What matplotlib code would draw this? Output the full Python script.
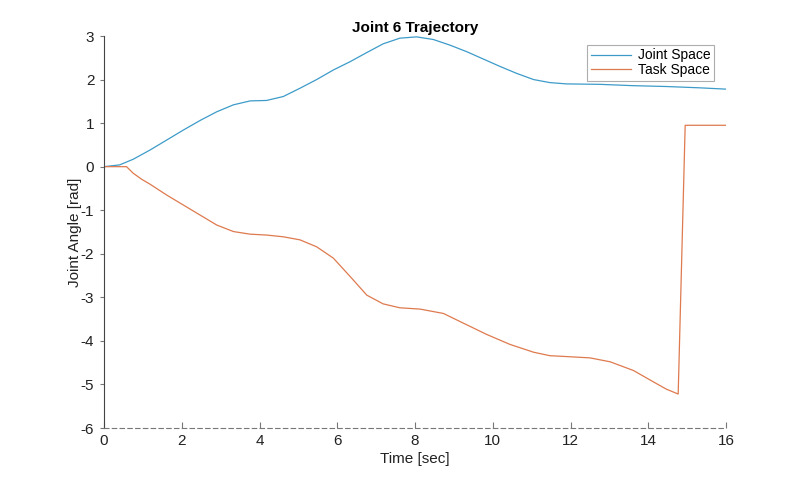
import matplotlib
matplotlib.use("Agg")
import matplotlib.pyplot as plt

plt.rcParams["font.family"] = ["Liberation Sans", "DejaVu Sans"]
plt.rcParams["axes.unicode_minus"] = False

# joint space (blue)
t_joint = [0, 0.4, 0.75, 1.18, 1.61, 2.04, 2.47, 2.9, 3.33, 3.76, 4.18, 4.61, 5.04,
           5.47, 5.9, 6.33, 6.76, 7.18, 7.61, 8.04, 8.47, 8.9, 9.33, 9.76, 10.19,
           10.62, 11.05, 11.47, 11.9, 12.76, 13.6, 14.47, 15.33, 16.0]
q_joint = [0, 0.04, 0.17, 0.38, 0.61, 0.84, 1.06, 1.26, 1.42, 1.51, 1.52, 1.61, 1.8,
           2.0, 2.22, 2.41, 2.62, 2.82, 2.95, 2.98, 2.92, 2.79, 2.64, 2.47, 2.3,
           2.14, 2.0, 1.93, 1.9, 1.89, 1.86, 1.84, 1.81, 1.78]

# task space (orange)
t_task = [0, 0.58, 0.75, 0.97, 1.18, 1.61, 2.04, 2.47, 2.9, 3.33, 3.76, 4.18, 4.61,
          5.04, 5.47, 5.9, 6.33, 6.76, 7.18, 7.61, 8.13, 8.73, 9.33, 9.84, 10.44,
          11.05, 11.47, 11.9, 12.5, 13.02, 13.62, 14.13, 14.47, 14.77, 14.95, 16.0]
q_task = [0, 0, -0.15, -0.29, -0.4, -0.65, -0.88, -1.11, -1.34, -1.49, -1.55, -1.57, -1.61,
          -1.68, -1.84, -2.1, -2.52, -2.95, -3.15, -3.24, -3.27, -3.37, -3.63, -3.85, -4.08,
          -4.26, -4.34, -4.36, -4.39, -4.48, -4.68, -4.94, -5.11, -5.22, 0.95, 0.95]

fig = plt.figure(figsize=(8.02, 4.82), dpi=100)
ax = fig.add_axes([104 / 802, 1 - 428 / 482, 622 / 802, 392 / 482])
ax.plot(t_joint, q_joint, color="#3D9BC9", lw=0.9, label="Joint Space")
ax.plot(t_task, q_task, color="#DE7A4E", lw=0.9, label="Task Space")

ax.set_xlim(0, 16)
ax.set_ylim(-6, 3)
ax.set_xticks(range(0, 17, 2))
ax.set_yticks(range(-6, 4))
for s in ("top", "right"):
    ax.spines[s].set_visible(False)
ax.spines["left"].set_color("#444444")
ax.spines["left"].set_linewidth(0.8)
ax.spines["bottom"].set_color("#777777")
ax.spines["bottom"].set_linestyle((0, (4, 3)))
ax.spines["bottom"].set_linewidth(0.8)
ax.tick_params(axis="y", direction="out", length=3, color="#777777", labelsize=11,
               labelcolor="#222222", pad=4)
ax.tick_params(axis="x", direction="in", length=4, color="#777777", labelsize=11,
               labelcolor="#222222", pad=4)

ax.set_xlabel("Time [sec]", fontsize=11, color="#222222", labelpad=3)
ax.set_ylabel("Joint Angle [rad]", fontsize=11, color="#222222")
ax.yaxis.set_label_coords(-0.036, 0.5)
ax.set_title("Joint 6 Trajectory", fontsize=11, fontweight="bold", pad=3)

leg = ax.legend(loc="upper right", bbox_to_anchor=(714 / 802, 1 - 45 / 482),
                bbox_transform=fig.transFigure, fontsize=10, fancybox=False,
                handlelength=2.9, borderpad=0.25, labelspacing=0.05,
                handletextpad=0.5, borderaxespad=0)
leg.get_frame().set_edgecolor("#999999")
leg.get_frame().set_linewidth(0.8)

fig.savefig("out.png", dpi=100)
